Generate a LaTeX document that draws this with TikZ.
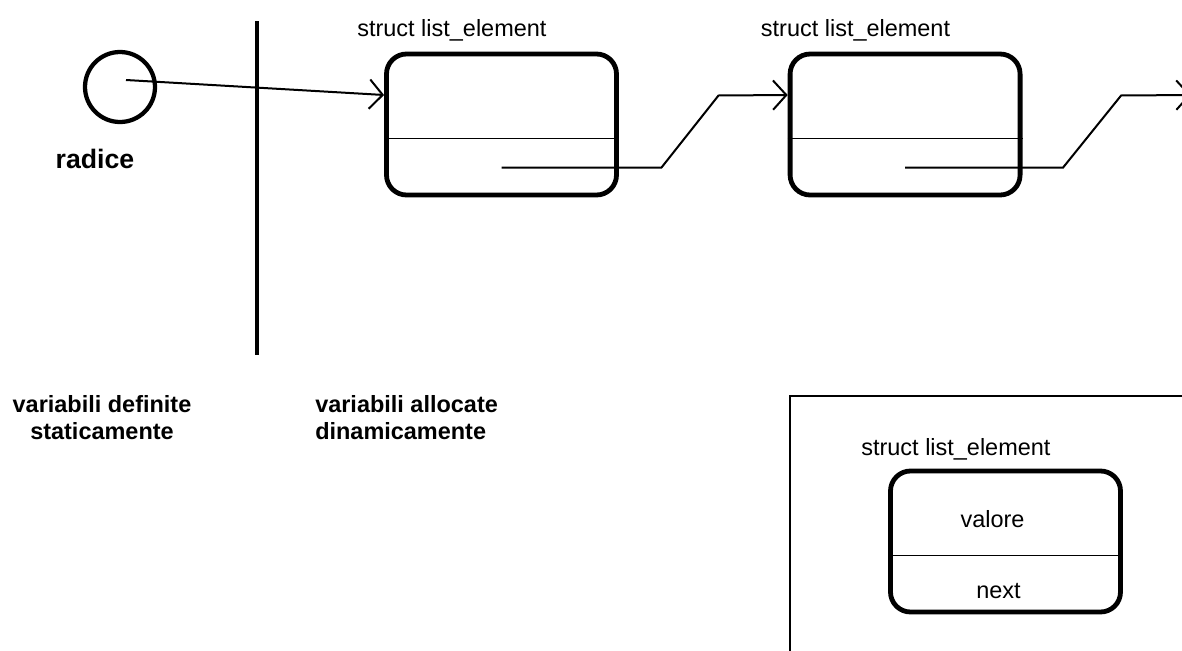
\documentclass[tikz,border=0pt]{standalone}
\usepackage{fontspec}
\setmainfont{Liberation Sans}
\usetikzlibrary{arrows.meta, positioning, calc}

\begin{document}
\begin{tikzpicture}[x=0.75pt, y=-0.75pt, >={Straight Barb[length=10pt,width=22pt]},
  elem/.style={rectangle, draw, rounded corners=15pt, line width=3.6pt, minimum width=172.5pt, minimum height=105.75pt},
  root/.style={circle, draw, line width=3.2pt, minimum size=52.5pt},
  ptr/.style={->, line width=1.5pt},
  div/.style={line width=1.4pt},
  typelbl/.style={inner sep=0pt, font=\fontsize{17.6}{20}\selectfont},
  lbl/.style={inner sep=0pt, font=\bfseries\fontsize{17.6}{20.25}\selectfont}]

\clip (0,0) rectangle (1182,650);

% Nodes
\node[root] (root) at (120,87) {};
\node[elem] (e1) at (501.5,124.5) {};
\node[elem, right=126.6pt of e1] (e2) {};
\node[elem] (key) at (1005.5,541.5) {};
\coordinate (n1) at ($(e1.center)+(0,43)$);
\coordinate (n2) at ($(e2.center)+(0,43)$);
\coordinate (tail) at (1191,95);
\coordinate (s1) at (257,21);
\coordinate (s2) at (257,355);

% Edges
\draw[line width=3pt] (s1) -- (s2);
\draw[div] ($(e1.west)+(0,14)$) -- ($(e1.east)+(0,14)$);
\draw[div] ($(e2.west)+(0,14)$) -- ($(e2.east)+(0,14)$);
\draw[div] ($(key.west)+(0,14)$) -- ($(key.east)+(0,14)$);
\draw[ptr] ($(root.center)+(6,-7)$) -- ($(e1.west)+(0,-29.5)$);
\draw[ptr] (n1) -- ++(160,0) -- ++(57,-72) -- ($(e2.west)+(0,-29.5)$);
\draw[ptr] (n2) -- ++(158,0) -- ++(58,-72) -- (tail);
\draw[line width=1.5pt] (790,396) rectangle (1200,670);

% Labels
\node[typelbl, anchor=base west] (c1) at ($(e1.north west)+(-27,-15)$) {struct list\_element};
\node[typelbl, anchor=base west] (c2) at ($(e2.north west)+(-27,-15)$) {struct list\_element};
\node[typelbl, anchor=base west] (c3) at ($(key.north west)+(-27,-13)$) {struct list\_element};
\node[typelbl, anchor=base] (val) at ($(key.center)+(-13,-14.5)$) {valore};
\node[typelbl, anchor=base] (nxt) at ($(key.center)+(-7,56.5)$) {next};
\node[lbl, font=\bfseries\fontsize{20}{22}\selectfont, anchor=base] (rlbl) at (95,168) {radice};
\node[lbl, align=center, anchor=north] (stat) at (102,395) {variabili definite\\staticamente};
\node[lbl, align=left, anchor=north west] (dyn) at (315,395) {variabili allocate\\dinamicamente};

\end{tikzpicture}
\end{document}
